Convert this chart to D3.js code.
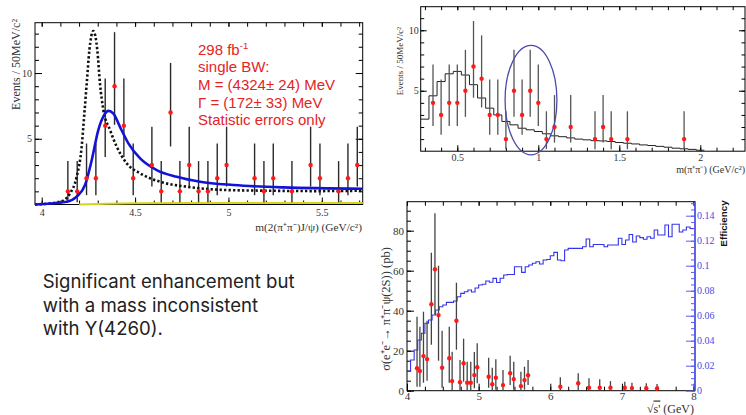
<!DOCTYPE html>
<html>
<head>
<meta charset="utf-8">
<script src="https://cdn.jsdelivr.net/npm/d3@7"></script>
<style>
body { margin: 0; background: #fff; }
svg { display: block; }
.serif text { font-family: "Liberation Serif", "Times New Roman", serif; fill: #333; }
</style>
</head>
<body>
<svg id="chart" width="746" height="415"></svg>
<script>
// ---- top left: m(2(pi+pi-)J/psi) spectrum ----
var jpsiX  = [4.14,4.19,4.24,4.29,4.34,4.39,4.44,4.49,4.59,4.64,4.69,4.74,4.79,4.84,4.89,4.94,4.99,5.14,5.19,5.24,5.34,5.44,5.49,5.59,5.64,5.69];
var jpsiN  = [1,1,2,2,6,9,6,2,3,1,7,1,3,1,1,2,3,2,1,2,1,3,2,1,2,3];
var jpsiLo = [0.17,0.17,0.71,0.71,3.62,6.06,3.62,0.71,1.37,0.17,4.42,0.17,1.37,0.17,0.17,0.71,1.37,0.71,0.17,0.71,0.17,1.37,0.71,0.17,0.71,1.37];
var jpsiHi = [3.3,3.3,4.64,4.64,9.58,13.11,9.58,4.64,5.92,3.3,10.77,3.3,5.92,3.3,3.3,4.64,5.92,4.64,3.3,4.64,3.3,5.92,4.64,3.3,4.64,5.92];
// fitted single BW (blue) and Y(4260) shape (dotted)
var bwX  = [3.964,4.134,4.187,4.232,4.268,4.303,4.334,4.357,4.384,4.419,4.464,4.527,4.616,4.723,4.848,5.027,5.294,5.719];
var bwY  = [0,0.21,0.6,1.48,3.38,5.66,6.8,7.12,6.92,5.91,4.65,3.51,2.62,2.11,1.73,1.48,1.3,1.2];
var y4260X = [3.964,4.098,4.152,4.187,4.214,4.227,4.241,4.255,4.276,4.298,4.312,4.33,4.366,4.402,4.455,4.527,4.634,4.777,4.991,5.205,5.473,5.719];
var y4260Y = [0,0.21,0.85,2.1,4.4,6.67,9.2,11.7,13.2,11.7,9.2,7.2,5.66,4.39,3.13,2.37,1.73,1.35,1.1,1.05,1.02,1.05];
var bkgX = [4.2,4.35,4.5,4.8,5.2,5.719];
var bkgY = [0,0.05,0.09,0.11,0.12,0.12];
var jpsiTicks = [4,4.5,5,5.5];
var fitText = ['298 fb', 'single BW:', 'M = (4324\u00b1 24) MeV', '\u0393 = (172\u00b1 33) MeV', 'Statistic errors only'];

// ---- top right: m(pi+pi-) ----
var pipiX  = [0.35,0.40,0.45,0.50,0.55,0.60,0.65,0.70,0.75,0.80,0.85,0.90,0.95,1.00,1.05,1.10,1.20,1.35,1.40,1.45,1.55,1.90];
var pipiN  = [4,3,4,4,5,7,6,3,3,1,5,3,5,4,1,2,2,1,2,1,1,1];
var pipiLo = [2.09,1.37,2.09,2.09,2.84,4.42,3.62,1.37,1.37,0.17,2.84,1.37,2.84,2.09,0.17,0.71,0.71,0.17,0.71,0.17,0.17,0.17];
var pipiHi = [7.16,5.92,7.16,7.16,8.38,10.77,9.58,5.92,5.92,3.3,8.38,5.92,8.38,7.16,3.3,4.64,4.64,3.3,4.64,3.3,3.3,3.3];
var mcEdges = [0.275,0.325,0.375,0.425,0.475,0.525,0.575,0.625,0.675,0.725,0.775,0.825,0.875,0.925,0.975,1.025,1.075,1.125,1.175,1.225,1.275,1.325,1.375,1.425,1.475,1.525,1.575,1.625,1.675,1.725,1.775,1.825,1.875,1.925,1.975,2.025];
var mcVals  = [2.65,4.58,5.76,6.4,6.6,6.3,5.5,4.4,3.56,3.0,2.46,2.18,1.9,1.77,1.63,1.44,1.27,1.2,1.1,1.0,0.94,0.87,0.85,0.8,0.72,0.66,0.6,0.52,0.47,0.4,0.33,0.25,0.2,0.15,0.08];
var pipiTicks = [0.5,1,1.5,2];
var circled = [0.795, 1.115, -0.3, 8.75];   // x from, x to, y from, y to

// ---- bottom: cross section and efficiency ----
var xsX  = [4.14,4.18,4.23,4.28,4.34,4.39,4.44,4.49,4.59,4.63,4.69,4.74,4.79,4.84,4.89,4.94,4.98,5.14,5.19,5.24,5.34,5.44,5.49,5.59,5.64,5.69,6.14,6.39,6.54,6.69,6.84,7.04,7.14,7.34,7.49];
var xsY  = [11.2,9.8,17.3,15.8,43.2,60.7,37.8,11.5,16.2,4.8,35,4.2,13.7,4,4,7.8,11.7,7,3.2,6.5,2.8,8.7,5.8,2.3,5.3,7.7,2,3.7,1.5,1.5,1.5,1.5,1.3,1.2,1.1];
var xsLo = [2,2,4,5,23,38,15,1.5,4,0.3,20.5,0,4.5,0,0,1.2,3.7,1.5,0,0.5,0,2.8,0.5,0,0.5,2.8,0,0,0,0,0,0,0,0,0];
var xsHi = [37,32,39.5,35,69,88.7,62.5,30,32,19.5,54,15.3,26,14.5,14.5,19.3,23.7,16.5,11.5,15.7,10.3,17.5,14.5,9.5,12,15.3,6.7,8.7,6.2,5.7,4.8,4.5,4,3.7,3.3];
var effEdges = [4.00,4.05,4.10,4.15,4.20,4.25,4.30,4.35,4.40,4.45,4.50,4.55,4.60,4.65,4.70,4.75,4.80,4.85,4.90,4.95,
  5.00,5.05,5.10,5.15,5.20,5.25,5.30,5.35,5.40,5.45,5.50,5.55,5.60,5.65,5.70,5.75,5.80,5.85,5.90,5.95,
  6.00,6.05,6.10,6.15,6.20,6.25,6.30,6.35,6.40,6.45,6.50,6.55,6.60,6.65,6.70,6.75,6.80,6.85,6.90,6.95,
  7.00,7.05,7.10,7.15,7.20,7.25,7.30,7.35,7.40,7.45,7.50,7.55,7.60,7.65,7.70,7.75,7.80,7.85,7.90,7.95,8.00];
var effVals = [0.0158,0.0246,0.0326,0.0406,0.046,0.054,0.0566,0.0606,0.0646,0.0672,
  0.0686,0.0707,0.0707,0.0718,0.0752,0.0779,0.0792,0.0806,0.079,0.0822,
  0.0846,0.0852,0.0878,0.0868,0.0899,0.0866,0.09,0.0926,0.093,0.093,
  0.0992,0.0992,0.0947,0.0992,0.1006,0.102,0.1032,0.1014,0.1046,0.105,
  0.108,0.1107,0.1046,0.104,0.1126,0.1139,0.1139,0.1139,0.1139,0.1152,
  0.1214,0.1152,0.117,0.117,0.117,0.1152,0.1166,0.1166,0.1166,0.122,
  0.117,0.1206,0.125,0.119,0.1238,0.1225,0.1212,0.1232,0.122,0.1286,
  0.1246,0.1246,0.1326,0.1232,0.1332,0.1332,0.127,0.1286,0.131,0.1298];
var xsTicks = [4,5,6,7,8];
var xsYTicks = [0,20,40,60,80];
var effTicks = [0,0.02,0.04,0.06,0.08,0.1,0.12,0.14];

var noteLines = ['Significant enhancement but', 'with a mass inconsistent', 'with Y(4260).'];

var svg = d3.select('#chart');

// ROOT style box: ticks inside on all four sides
function boxAxes(g, x, y, o) {
  var x0 = x.range()[0], x1 = x.range()[1], y0 = y.range()[0], y1 = y.range()[1];
  var clean = function(s) { s.select('.domain').remove(); s.selectAll('line').attr('stroke', o.tickCol || '#000'); };
  g.append('g').attr('transform', 'translate(0,' + y0 + ')')
      .call(d3.axisBottom(x).tickValues(o.xMinor).tickSize(-o.minor).tickFormat('')).call(clean);
  g.append('g').attr('transform', 'translate(0,' + y0 + ')')
      .call(d3.axisBottom(x).tickValues(o.xMajor).tickSize(-o.major).tickPadding(o.xPad).tickFormat(o.xFmt)).call(clean)
      .selectAll('text').attr('font-size', o.fs);
  g.append('g').attr('transform', 'translate(0,' + y1 + ')')
      .call(d3.axisTop(x).tickValues(o.xMinor.concat(o.xMajor)).tickSize(-o.minor).tickFormat('')).call(clean);
  g.append('g').attr('transform', 'translate(' + x0 + ',0)')
      .call(d3.axisLeft(y).tickValues(o.yMinor).tickSize(-o.minor).tickFormat('')).call(clean);
  g.append('g').attr('transform', 'translate(' + x0 + ',0)')
      .call(d3.axisLeft(y).tickValues(o.yMajor).tickSize(-o.major).tickPadding(o.yPad).tickFormat(o.yFmt)).call(clean)
      .selectAll('text').attr('font-size', o.fs);
  if (o.rightTicks) {
    g.append('g').attr('transform', 'translate(' + x1 + ',0)')
        .call(d3.axisRight(y).tickValues(o.yMinor).tickSize(-o.minor).tickFormat('')).call(clean);
    g.append('g').attr('transform', 'translate(' + x1 + ',0)')
        .call(d3.axisRight(y).tickValues(o.yMajor).tickSize(-o.major).tickFormat('')).call(clean);
  }
  g.append('rect').attr('x', x0).attr('y', y1).attr('width', x1 - x0).attr('height', y0 - y1)
      .attr('fill', 'none').attr('stroke', '#000').attr('stroke-width', 1);
}

function errorBars(g, x, y, xs, lo, hi, col, w) {
  g.append('g').selectAll('line').data(xs).enter().append('line')
      .attr('x1', function(d) { return x(d); }).attr('x2', function(d) { return x(d); })
      .attr('y1', function(d, i) { return y(lo[i]); }).attr('y2', function(d, i) { return y(hi[i]); })
      .attr('stroke', col).attr('stroke-width', w);
}
function dots(g, x, y, xs, ys) {
  g.append('g').selectAll('circle').data(xs).enter().append('circle')
      .attr('cx', function(d) { return x(d); }).attr('cy', function(d, i) { return y(ys[i]); })
      .attr('r', 2.2).attr('fill', '#ff1a1a');
}
var pairs = function(a, b) { return a.map(function(d, i) { return [d, b[i]]; }); };

// ===== top left =====
var tl = svg.append('g').attr('class', 'serif');
var x1 = d3.scaleLinear().domain([3.964, 5.719]).range([35, 362.7]);
var y1 = d3.scaleLinear().domain([0, 13.83]).range([204.5, 22.7]);
boxAxes(tl, x1, y1, {
  xMajor: jpsiTicks, xMinor: d3.range(4, 5.75, 0.1), yMajor: [5, 10], yMinor: d3.range(1, 14, 1),
  major: 7, minor: 4, xPad: 4, yPad: 3, fs: 10, rightTicks: true,
  xFmt: function(d) { return d; }, yFmt: function(d) { return d; }
});
tl.append('path').datum(pairs(bkgX, bkgY))
    .attr('d', d3.line().x(function(d) { return x1(d[0]); }).y(function(d) { return y1(d[1]); }).curve(d3.curveMonotoneX))
    .attr('fill', 'none').attr('stroke', '#d6d41a').attr('stroke-width', 2);
errorBars(tl, x1, y1, jpsiX, jpsiLo, jpsiHi, '#2a2a2a', 1.4);
tl.append('path').datum(pairs(y4260X, y4260Y))
    .attr('d', d3.line().x(function(d) { return x1(d[0]); }).y(function(d) { return y1(d[1]); }).curve(d3.curveMonotoneX))
    .attr('fill', 'none').attr('stroke', '#111').attr('stroke-width', 2.6).attr('stroke-dasharray', '2.3,2.2');
tl.append('path').datum(pairs(bwX, bwY))
    .attr('d', d3.line().x(function(d) { return x1(d[0]); }).y(function(d) { return y1(d[1]); }).curve(d3.curveMonotoneX))
    .attr('fill', 'none').attr('stroke', '#1212d8').attr('stroke-width', 2.6);
dots(tl, x1, y1, jpsiX, jpsiN);
tl.append('text').attr('x', 362).attr('y', 231).attr('text-anchor', 'end').attr('font-size', 11.3)
    .text('m(2(\u03c0\u207a\u03c0\u207b)J/\u03c8)  (GeV/c\u00b2)');
tl.append('text').attr('transform', 'translate(19.5,19) rotate(-90)').attr('text-anchor', 'end').attr('font-size', 12)
    .text('Events / 50MeV/c\u00b2');
var fit = svg.append('g').attr('font-family', '"Liberation Sans", Arial, sans-serif').attr('font-size', 15).attr('fill', '#e3241f');
var baselines = [54.5, 71.5, 90, 107.5, 125];
fitText.forEach(function(t, i) {
  var tx = fit.append('text').attr('x', 198).attr('y', baselines[i]).text(t);
  if (i === 0) tx.append('tspan').attr('font-size', 9.5).attr('dy', -6).text('-1');
});

// ===== top right =====
var tr = svg.append('g').attr('class', 'serif');
var x2 = d3.scaleLinear().domain([0.274, 2.276]).range([420.7, 745]);
var y2 = d3.scaleLinear().domain([0, 11.95]).range([151.2, 6.7]);
boxAxes(tr, x2, y2, {
  xMajor: pipiTicks, xMinor: d3.range(0.3, 2.25, 0.1), yMajor: [5, 10], yMinor: d3.range(1, 12, 1),
  major: 6, minor: 3.5, xPad: 3, yPad: 2, fs: 10, rightTicks: true,
  xFmt: function(d) { return d; }, yFmt: function(d) { return d; }
});
var mcPts = mcEdges.map(function(e, i) { return [e, mcVals[Math.min(i, mcVals.length - 1)]]; });
tr.append('path').datum(mcPts)
    .attr('d', d3.line().x(function(d) { return x2(d[0]); }).y(function(d) { return y2(d[1]); }).curve(d3.curveStepAfter))
    .attr('fill', 'none').attr('stroke', '#222').attr('stroke-width', 1);
errorBars(tr, x2, y2, pipiX, pipiLo, pipiHi, '#555', 1.3);
dots(tr, x2, y2, pipiX, pipiN);
tr.append('ellipse')
    .attr('cx', (x2(circled[0]) + x2(circled[1])) / 2).attr('cy', (y2(circled[2]) + y2(circled[3])) / 2)
    .attr('rx', (x2(circled[1]) - x2(circled[0])) / 2).attr('ry', (y2(circled[2]) - y2(circled[3])) / 2)
    .attr('fill', 'none').attr('stroke', '#4b4baa').attr('stroke-width', 1.3);
tr.append('text').attr('x', 745).attr('y', 173).attr('text-anchor', 'end').attr('font-size', 10)
    .text('m(\u03c0\u207a\u03c0\u207b) (GeV/c\u00b2)');
tr.append('text').attr('transform', 'translate(403,27) rotate(-90)').attr('text-anchor', 'end').attr('font-size', 9)
    .text('Events / 50MeV/c\u00b2');

// ===== bottom =====
var bt = svg.append('g').attr('class', 'serif');
var x3 = d3.scaleLinear().domain([4, 8.02]).range([407, 695]);
var y3 = d3.scaleLinear().domain([0, 94.5]).range([390.7, 201.7]);
var e3 = d3.scaleLinear().domain([0, 0.1512]).range([390.7, 201.7]);
boxAxes(bt, x3, y3, {
  xMajor: xsTicks, xMinor: d3.range(4, 8.01, 0.25), yMajor: xsYTicks, yMinor: d3.range(0, 95, 5),
  major: 7, minor: 4, xPad: 1.5, yPad: 3, fs: 11, rightTicks: false,
  xFmt: function(d) { return d; }, yFmt: function(d) { return d; }
});
// efficiency axis on the right, blue
var blueAx = '#5a5aff';
var rAx = bt.append('g').attr('transform', 'translate(695,0)');
rAx.append('g').call(d3.axisRight(e3).tickValues(d3.range(0, 0.151, 0.005)).tickSize(-4).tickFormat(''));
rAx.append('g').call(d3.axisRight(e3).tickValues(effTicks).tickSize(-9).tickPadding(2)
    .tickFormat(function(d) { return String(+d.toFixed(3)); }));
rAx.selectAll('.domain').remove();
rAx.selectAll('line').attr('stroke', blueAx);
rAx.selectAll('text').attr('font-family', '"Liberation Sans", Arial, sans-serif').attr('font-size', 10)
    .style('fill', '#4a4ae6');
bt.append('line').attr('x1', 695).attr('x2', 695).attr('y1', 201.7).attr('y2', 390.7)
    .attr('stroke', blueAx).attr('stroke-width', 1.5);
var effPts = effEdges.map(function(e, i) { return [e, effVals[Math.min(i, effVals.length - 1)]]; });
bt.append('path').datum(effPts)
    .attr('d', d3.line().x(function(d) { return x3(d[0]); }).y(function(d) { return e3(d[1]); }).curve(d3.curveStepAfter))
    .attr('fill', 'none').attr('stroke', '#3434e8').attr('stroke-width', 1.1);
errorBars(bt, x3, y3, xsX, xsLo, xsHi, '#444', 1.3);
dots(bt, x3, y3, xsX, xsY);
var xl = bt.append('text').attr('x', 694).attr('y', 412.5).attr('text-anchor', 'end').attr('font-size', 12);
xl.append('tspan').text('\u221a');
xl.append('tspan').style('text-decoration', 'overline').text("s'");
xl.append('tspan').text(' (GeV)');
bt.append('text').attr('transform', 'translate(390,309) rotate(-90)').attr('text-anchor', 'middle').attr('font-size', 12.5)
    .text('\u03c3(e\u207ae\u207b\u2192 \u03c0\u207a\u03c0\u207b\u03c8(2S)) (pb)');
svg.append('text').attr('transform', 'translate(727,223.5) rotate(-90)').attr('text-anchor', 'middle')
    .attr('font-family', '"Liberation Sans", Arial, sans-serif').attr('font-weight', 'bold').attr('font-size', 9.8)
    .attr('fill', '#111').text('Efficiency');

// ===== note =====
var note = svg.append('g').attr('font-family', 'Inter, "Noto Sans", sans-serif').attr('fill', '#222');
var noteBase = [288.3, 311.7, 334.5];
noteLines.forEach(function(t, i) {
  note.append('text').attr('x', 42.7).attr('y', noteBase[i]).attr('font-size', 16).text(t);
});
// fit the first line to the width it has in the slide
var w0 = note.select('text').node().getComputedTextLength();
note.selectAll('text').attr('font-size', 16 * 252 / w0);
</script>
</body>
</html>
